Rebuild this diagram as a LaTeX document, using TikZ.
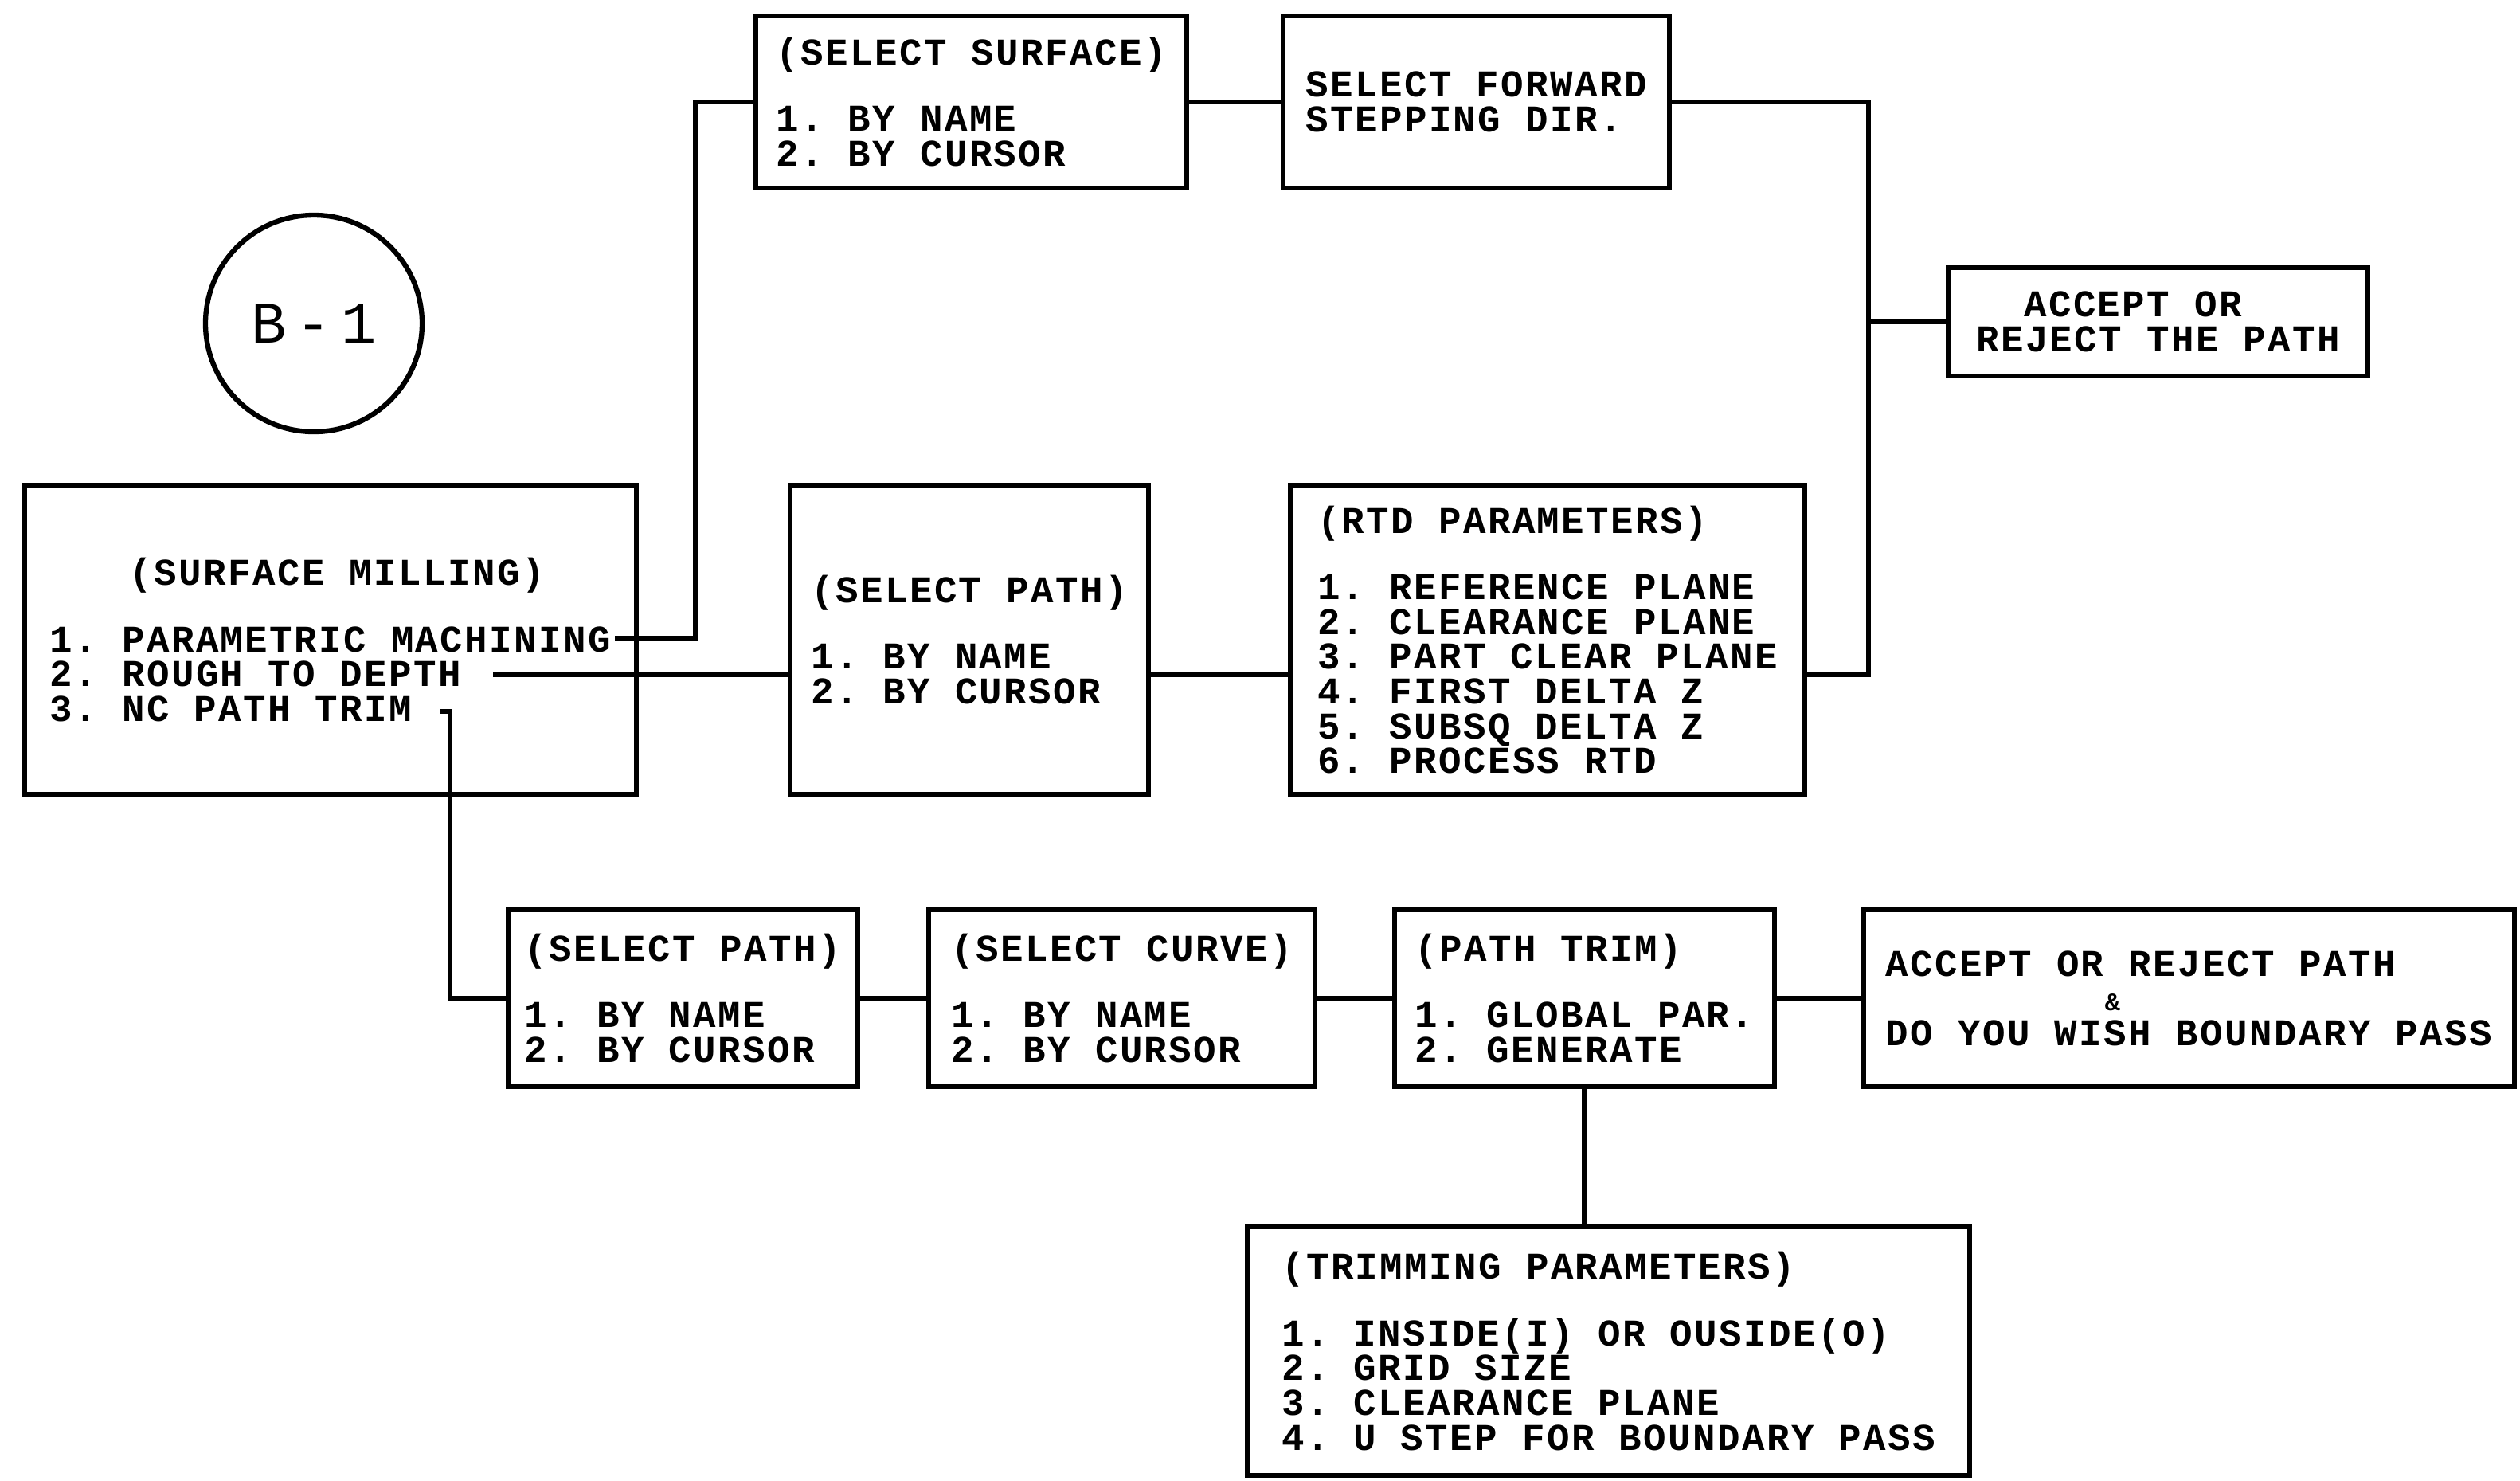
\documentclass[tikz,border=0pt]{standalone}
\usepackage{fontspec}
\newfontfamily\plotter[LetterSpace=5.2]{Liberation Mono}
\usepackage{tikz}
\usetikzlibrary{positioning,calc}
\lineskiplimit=-20pt

\begin{document}
\begin{tikzpicture}[line width=1.8pt,
  box/.style={draw, rectangle, inner sep=0pt, align=left,
    font=\plotter\bfseries\frenchspacing\fontsize{13.5}{12.4}\selectfont}]
  \useasboundingbox (0,0) rectangle (31.64,-18.58);

  % Sheet label
  \node[draw, circle, minimum size=2.72cm, inner sep=0pt,
    font=\plotter\fontsize{21}{21}\selectfont] (sheet) at (3.94,-4.06) {B\,-\,1};

  % Surface milling menu
  \node[box, minimum width=7.68cm, minimum height=3.88cm] (surfmill) at (4.15,-8.03)
    {\hspace*{1cm}(SURFACE MILLING)\\[0.4cm]1. PARAMETRIC MACHINING\\2. ROUGH TO DEPTH\\3. NC PATH TRIM};

  % Parametric machining row
  \node[box, minimum width=5.41cm, minimum height=2.16cm] (selsurf) at (12.195,-1.28)
    {(SELECT SURFACE)\\[0.4cm]1. BY NAME\\2. BY CURSOR};
  \node[box, minimum width=4.85cm, minimum height=2.16cm] (fwd) at (18.535,-1.28)
    {SELECT FORWARD\\STEPPING DIR.};
  \node[box, minimum width=5.27cm, minimum height=1.36cm] (accept1) at (27.095,-4.04)
    {\hspace*{0.6cm}ACCEPT OR\\REJECT THE PATH};

  % Rough to depth row
  \node[box, minimum width=4.50cm, minimum height=3.88cm] (selpath1) at (12.17,-8.03)
    {(SELECT PATH)\\[0.4cm]1. BY NAME\\2. BY CURSOR};
  \node[box, minimum width=6.46cm, minimum height=3.88cm] (rtd) at (19.43,-8.03)
    {(RTD PARAMETERS)\\[0.4cm]1. REFERENCE PLANE\\2. CLEARANCE PLANE\\3. PART CLEAR PLANE\\4. FIRST DELTA Z\\5. SUBSQ DELTA Z\\6. PROCESS RTD};

  % NC path trim row
  \node[box, minimum width=4.39cm, minimum height=2.22cm] (selpath2) at (8.575,-12.53)
    {(SELECT PATH)\\[0.4cm]1. BY NAME\\2. BY CURSOR};
  \node[box, minimum width=4.85cm, minimum height=2.22cm] (selcurve) at (14.085,-12.53)
    {(SELECT CURVE)\\[0.4cm]1. BY NAME\\2. BY CURSOR};
  \node[box, minimum width=4.77cm, minimum height=2.22cm] (pathtrim) at (19.895,-12.53)
    {(PATH TRIM)\\[0.4cm]1. GLOBAL PAR.\\2. GENERATE};
  \node[box, minimum width=8.17cm, minimum height=2.22cm] (accept2) at (27.485,-12.53)
    {ACCEPT OR REJECT PATH\\\hspace*{2.75cm}{\fontsize{9}{12.4}\selectfont\&}\\DO YOU WISH BOUNDARY PASS};
  \node[box, minimum width=9.07cm, minimum height=3.12cm] (trim) at (20.195,-16.96)
    {(TRIMMING PARAMETERS)\\[0.4cm]1. INSIDE(I) OR OUSIDE(O)\\2. GRID SIZE\\3. CLEARANCE PLANE\\4. U STEP FOR BOUNDARY PASS};

  % Connectors, top
  \coordinate (pm) at (7.72,-8.01);
  \draw (pm) -| ($(selsurf.west)+(-0.73,0)$) -- (selsurf.west);
  \draw (selsurf.east) -- (fwd.west);
  \coordinate (bus) at (23.46,-1.28);
  \draw (fwd.east) -- (bus) |- ([yshift=-0.44cm]rtd.east);
  \draw (bus |- accept1.west) -- (accept1.west);

  % Connectors, middle
  \coordinate (rd) at (6.19,-8.47);
  \draw (rd) -- (rd -| selpath1.west);
  \draw ([yshift=-0.44cm]selpath1.east) -- ([yshift=-0.44cm]rtd.west);

  % Connectors, bottom
  \coordinate (nc) at (5.52,-8.93);
  \draw (nc) -| ($(selpath2.west)+(-0.70,0)$) -- (selpath2.west);
  \draw (selpath2.east) -- (selcurve.west);
  \draw (selcurve.east) -- (pathtrim.west);
  \draw (pathtrim.east) -- (accept2.west);
  \draw (pathtrim.south) -- (pathtrim.south |- trim.north);
\end{tikzpicture}
\end{document}
